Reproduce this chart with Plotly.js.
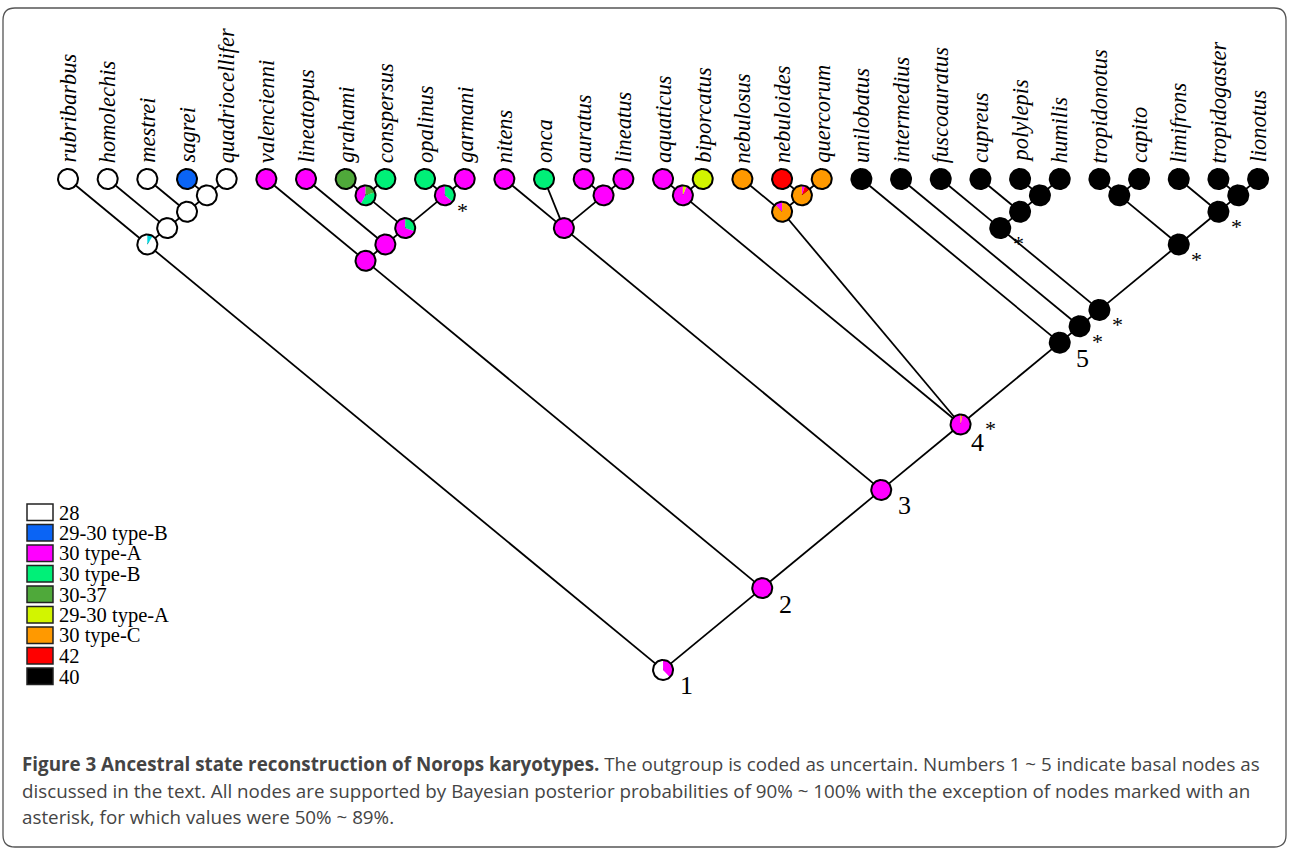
<!DOCTYPE html>
<html><head><meta charset="utf-8">
<script src="https://cdn.plot.ly/plotly-3.0.1.min.js"></script>
<style>html,body{margin:0;padding:0;background:#fff}</style>
</head><body><div id="chart" style="width:1290px;height:850px"></div>
<script>
// ---------------- DATA ----------------
const tipNames = ["rubribarbus","homolechis","mestrei","sagrei","quadriocellifer","valencienni","lineatopus","grahami","conspersus","opalinus","garmani","nitens","onca","auratus","lineatus","aquaticus","biporcatus","nebulosus","nebuloides","quercorum","unilobatus","intermedius","fuscoauratus","cupreus","polylepis","humilis","tropidonotus","capito","limifrons","tropidogaster","lionotus"];
const stateLabels = ["28","29-30 type-B","30 type-A","30 type-B","30-37","29-30 type-A","30 type-C","42","40"];
const stateColors = ["#ffffff","#0a64f5","#ff00ff","#00f078","#4fa93a","#d2f500","#ff9900","#ff0000","#000000","#00d8e0"];
const tipStates = [0,0,0,1,0, 2,2,4,3,3,2, 2,3,2,2, 2,5,6,7,6, 8,8,8,8,8,8,8,8,8,8,8];
const treeNewick = "((rubribarbus,(homolechis,(mestrei,(sagrei,quadriocellifer)O4)O3)O2)O1,((valencienni,(lineatopus,((grahami,conspersus)V5,(opalinus,garmani)V6)V4)V3)V2,((nitens,onca,(auratus,lineatus)A2)A1,((aquaticus,biporcatus)B1,(nebulosus,(nebuloides,quercorum)C2)C1,(unilobatus,(intermedius,((fuscoauratus,(cupreus,(polylepis,humilis)P3)P2)P1,((tropidonotus,capito)T2,(limifrons,(tropidogaster,lionotus)L3)L2)T1)D3)D2)N5)N4)N3)N2)N1";
// internal node reconstructed states: [stateIndex, fraction] clockwise from 12 o'clock
const nodeIds = ["O1","O2","O3","O4","V2","V3","V4","V5","V6","A1","A2","B1","C1","C2","N1","N2","N3","N4","N5","D2","D3","P1","P2","P3","T1","T2","L2","L3"];
const nodeStates = [
  [[9,0.09],[0,0.91]], [[0,1]], [[0,1]], [[0,1]],
  [[2,1]], [[2,1]], [[3,0.3],[2,0.7]], [[4,0.2],[3,0.38],[2,0.42]], [[3,0.36],[2,0.64]],
  [[2,1]], [[2,1]], [[5,0.06],[2,0.94]], [[6,0.88],[2,0.12]], [[2,0.05],[7,0.09],[6,0.86]],
  [[2,0.38],[0,0.62]], [[2,1]], [[2,1]], [[6,0.03],[2,0.97]], [[8,1]],
  [[8,1]], [[8,1]], [[8,1]], [[8,1]], [[8,1]], [[8,1]], [[8,1]], [[8,1]], [[8,1]]
];
const basalNodeIds = ["N1","N2","N3","N4","N5"];
const basalLabels = ["1","2","3","4","5"];
const starNodeIds = ["V6","N4","D2","D3","P1","T1","L2"];
const captionLines = [
  "<b>Figure 3 Ancestral state reconstruction of Norops karyotypes.</b> The outgroup is coded as uncertain. Numbers 1 ~ 5 indicate basal nodes as",
  "discussed in the text. All nodes are supported by Bayesian posterior probabilities of 90% ~ 100% with the exception of nodes marked with an",
  "asterisk, for which values were 50% ~ 89%."
];

// ---------------- LAYOUT (slanted cladogram) ----------------
const W = 1290, H = 850;
const X0 = 68, Y0 = 179, U = 39.67;   // pixel of first tip, pixels per tip spacing
const SLOPE = 0.825;
const R = 10 / U;
function parse(str){
  let i = 0;
  function node(){
    const n = {children:[], name:""};
    if (str[i] === '('){
      i++; n.children.push(node());
      while (str[i] === ','){ i++; n.children.push(node()); }
      i++;
    }
    let nm = "";
    while (i < str.length && !",()".includes(str[i])) nm += str[i++];
    n.name = nm; return n;
  }
  return node();
}
const root = parse(treeNewick);
const all = [];
function place(n){
  if (!n.children.length){ n.x = tipNames.indexOf(n.name); n.y = 0; n.slices = [[tipStates[n.x],1]]; all.push(n); return; }
  n.children.forEach(place);
  const L = n.children[0], Rr = n.children[n.children.length-1];
  n.x = (L.x + Rr.x)/2 + (Rr.y - L.y)/(2*SLOPE);
  n.y = L.y + SLOPE*(n.x - L.x);
  n.slices = nodeStates[nodeIds.indexOf(n.name)];
  all.push(n);
}
place(root);
const byName = {}; all.forEach(n => byName[n.name] = n);

// branches
const bx = [], by = [];
all.forEach(n => n.children.forEach(c => { bx.push(n.x, c.x, null); by.push(n.y, c.y, null); }));
const traces = [{x:bx, y:by, mode:'lines', line:{color:'#000', width:1.8}, hoverinfo:'skip', showlegend:false}];

// pies
const fills = stateColors.map(() => ({x:[], y:[]}));
const ox = [], oy = [];
const N = 48;
all.forEach(n => {
  let a = 0;
  n.slices.forEach(([si, f]) => {
    const f2 = fills[si];
    if (f >= 1){
      for (let k = 0; k <= N; k++){ const t = 2*Math.PI*k/N; f2.x.push(n.x + R*Math.sin(t)); f2.y.push(n.y - R*Math.cos(t)); }
    } else {
      f2.x.push(n.x); f2.y.push(n.y);
      const steps = Math.max(2, Math.ceil(N*f));
      for (let k = 0; k <= steps; k++){ const t = 2*Math.PI*(a + f*k/steps); f2.x.push(n.x + R*Math.sin(t)); f2.y.push(n.y - R*Math.cos(t)); }
      f2.x.push(n.x); f2.y.push(n.y);
    }
    f2.x.push(null); f2.y.push(null);
    a += f;
  });
  for (let k = 0; k <= N; k++){ const t = 2*Math.PI*k/N; ox.push(n.x + R*Math.sin(t)); oy.push(n.y - R*Math.cos(t)); }
  ox.push(null); oy.push(null);
});
fills.forEach((f, i) => {
  if (f.x.length) traces.push({x:f.x, y:f.y, mode:'lines', fill:'toself', fillcolor:stateColors[i], line:{width:0, color:stateColors[i]}, hoverinfo:'skip', showlegend:false});
});
traces.push({x:ox, y:oy, mode:'lines', line:{color:'#000', width:2}, hoverinfo:'skip', showlegend:false});

// annotations
const ann = [];
const serif = 'Liberation Serif, Times New Roman, serif';
tipNames.forEach((nm, i) => ann.push({x:i, y:0, xref:'x', yref:'y', text:'<i>'+nm+'</i>', textangle:-90, showarrow:false,
  xanchor:'center', yanchor:'bottom', yshift:14, font:{family:serif, size:22.5, color:'#000'}}));
basalNodeIds.forEach((id, i) => {
  const n = byName[id];
  const starred = starNodeIds.includes(id);
  ann.push({x:n.x, y:n.y, xref:'x', yref:'y', text:basalLabels[i], showarrow:false,
    xanchor:'center', yanchor:'middle', xshift: starred ? 17 : 23, yshift: starred ? -18 : -16, font:{family:serif, size:26, color:'#000'}});
});
starNodeIds.forEach(id => { const n = byName[id]; const basal = basalNodeIds.includes(id);
  ann.push({x:n.x, y:n.y, xref:'x', yref:'y', text:'*', showarrow:false,
  xanchor:'center', yanchor:'middle', xshift: basal ? 30 : 18, yshift: basal ? -4 : -15, font:{family:serif, size:22, color:'#000'}}); });

// legend & frame
const px = v => v / W, py = v => 1 - v / H;
const shapes = [];
stateLabels.forEach((lab, i) => {
  const top = 504 + i*20.5;
  shapes.push({type:'rect', xref:'paper', yref:'paper', x0:px(27), x1:px(53), y0:py(top), y1:py(top+16.5),
    fillcolor:stateColors[i], line:{color:'#222', width:1.5}});
  ann.push({x:px(57), y:py(top+8.5), xref:'paper', yref:'paper', text:lab, showarrow:false, xanchor:'left', yanchor:'middle',
    font:{family:serif, size:20.5, color:'#000'}});
});
const fx0 = 3, fx1 = 1286, fy0 = 8, fy1 = 847, rr = 12;
shapes.push({type:'path', xref:'paper', yref:'paper', line:{color:'#555', width:1.3},
  path:`M ${px(fx0+rr)},${py(fy0)} L ${px(fx1-rr)},${py(fy0)} Q ${px(fx1)},${py(fy0)} ${px(fx1)},${py(fy0+rr)} L ${px(fx1)},${py(fy1-rr)} Q ${px(fx1)},${py(fy1)} ${px(fx1-rr)},${py(fy1)} L ${px(fx0+rr)},${py(fy1)} Q ${px(fx0)},${py(fy1)} ${px(fx0)},${py(fy1-rr)} L ${px(fx0)},${py(fy0+rr)} Q ${px(fx0)},${py(fy0)} ${px(fx0+rr)},${py(fy0)} Z`});
captionLines.forEach((t, i) => ann.push({x:px(20), y:py(764 + i*26.5), xref:'paper', yref:'paper', text:t, showarrow:false,
  xanchor:'left', yanchor:'middle', font:{family:'Open Sans, sans-serif', size:18.8, color:'#444'}}));

const layout = {
  width:W, height:H, margin:{l:0, r:0, t:0, b:0}, paper_bgcolor:'#fff', plot_bgcolor:'#fff',
  xaxis:{range:[-X0/U, (W-X0)/U], visible:false, fixedrange:true},
  yaxis:{range:[(H-Y0)/U, -Y0/U], visible:false, fixedrange:true},
  showlegend:false, shapes:shapes, annotations:ann
};
Plotly.newPlot('chart', traces, layout, {displayModeBar:false, staticPlot:true});
</script></body></html>
